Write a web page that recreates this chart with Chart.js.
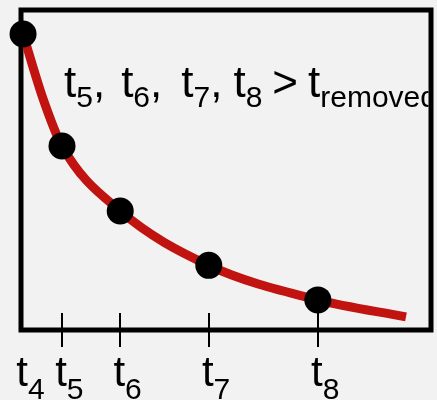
<!DOCTYPE html>
<html>
<head>
<meta charset="utf-8">
<script src="https://cdn.jsdelivr.net/npm/chart.js@4/dist/chart.umd.min.js"></script>
<style>
  html, body { margin: 0; padding: 0; background: #f2f2f2; }
  #wrap { width: 437px; height: 400px; }
</style>
</head>
<body>
<div id="wrap"><canvas id="c" width="437" height="400"></canvas></div>
<script>
// Sampling instants t4..t8 (subscripts shown under the axis)
const sampleIndex = ['4', '5', '6', '7', '8'];
const sampleTimes = [0.05, 1.0, 2.42, 4.58, 7.24];
const sampleLevels = [92.5, 57.5, 37.2, 20.2, 9.4];

// Decay curve readings
const curveTimes  = [0.05, 0.54, 1.0, 2.42, 4.58, 7.24, 9.39];
const curveLevels = [92.5, 72.2, 57.5, 37.2, 20.2, 9.4, 4.1];

const FONT = '"Liberation Sans", Arial, Helvetica, sans-serif';

// Draws a run of text pieces; subscript pieces are smaller and dropped below the baseline.
function drawRich(ctx, pieces, x, y, mainSize, subSize, drop) {
  ctx.textBaseline = 'alphabetic';
  ctx.textAlign = 'left';
  for (const p of pieces) {
    if (p.gap !== undefined) { x += p.gap; continue; }
    const sub = p.s !== undefined;
    const txt = sub ? p.s : p.t;
    ctx.font = (sub ? subSize : mainSize) + 'px ' + FONT;
    ctx.fillText(txt, x, sub ? y + drop : y);
    x += ctx.measureText(txt).width;
  }
}

const framePlugin = {
  id: 'frameAndLabels',
  beforeDatasetsDraw(chart) {
    const { ctx, chartArea: a, scales: { x } } = chart;

    // caption inside the plot, cut off at the right edge of the frame
    ctx.save();
    ctx.beginPath();
    ctx.rect(a.left, a.top, a.right - a.left - 2.5, a.bottom - a.top);
    ctx.clip();
    ctx.fillStyle = '#000';
    drawRich(ctx, [
      { t: 't' }, { s: '5' }, { t: ',' }, { gap: 16 },
      { t: 't' }, { s: '6' }, { t: ',' }, { gap: 19 },
      { t: 't' }, { s: '7' }, { t: ',' }, { gap: 11 },
      { t: 't' }, { s: '8' }, { gap: 10 }, { t: '>' }, { gap: 10 },
      { t: 't' }, { s: 'removed' }
    ], a.left + 43, 97, 44, 30, 9.5);
    ctx.restore();

    // plot frame
    ctx.save();
    ctx.strokeStyle = '#000';
    ctx.lineWidth = 5;
    ctx.lineJoin = 'miter';
    ctx.strokeRect(a.left, a.top, a.right - a.left, a.bottom - a.top);

    // tick marks crossing the time axis
    ctx.lineWidth = 2;
    ctx.beginPath();
    for (let i = 1; i < sampleTimes.length; i++) {
      const px = Math.round(x.getPixelForValue(sampleTimes[i]));
      ctx.moveTo(px, a.bottom - 17);
      ctx.lineTo(px, a.bottom + 17);
    }
    ctx.stroke();

    // tick labels t4..t8
    ctx.fillStyle = '#000';
    for (let i = 0; i < sampleTimes.length; i++) {
      const px = x.getPixelForValue(sampleTimes[i]);
      ctx.font = '42px ' + FONT;
      const tw = ctx.measureText('t').width;
      drawRich(ctx, [{ t: 't' }, { s: sampleIndex[i] }], px - tw / 2 - 1, 386, 42, 30, 13);
    }
    ctx.restore();
  }
};

new Chart(document.getElementById('c'), {
  type: 'line',
  data: {
    datasets: [
      {
        label: 'samples',
        data: sampleTimes.map((t, i) => ({ x: t, y: sampleLevels[i] })),
        showLine: false,
        pointRadius: 13.5,
        pointHoverRadius: 13.5,
        pointBackgroundColor: '#000',
        pointBorderWidth: 0,
        borderColor: '#000',
        clip: false,
        order: 0
      },
      {
        label: 'decay',
        data: curveTimes.map((t, i) => ({ x: t, y: curveLevels[i] })),
        borderColor: '#c11410',
        borderWidth: 9,
        borderCapStyle: 'butt',
        cubicInterpolationMode: 'monotone',
        pointRadius: 0,
        fill: false,
        clip: false,
        order: 1
      }
    ]
  },
  options: {
    responsive: false,
    animation: false,
    events: [],
    layout: { autoPadding: false, padding: { left: 21, right: 6, top: 10, bottom: 70 } },
    plugins: { legend: { display: false }, tooltip: { enabled: false } },
    scales: {
      x: { type: 'linear', min: 0, max: 10, display: false },
      y: { type: 'linear', min: 0, max: 100, display: false }
    }
  },
  plugins: [framePlugin]
});
</script>
</body>
</html>
